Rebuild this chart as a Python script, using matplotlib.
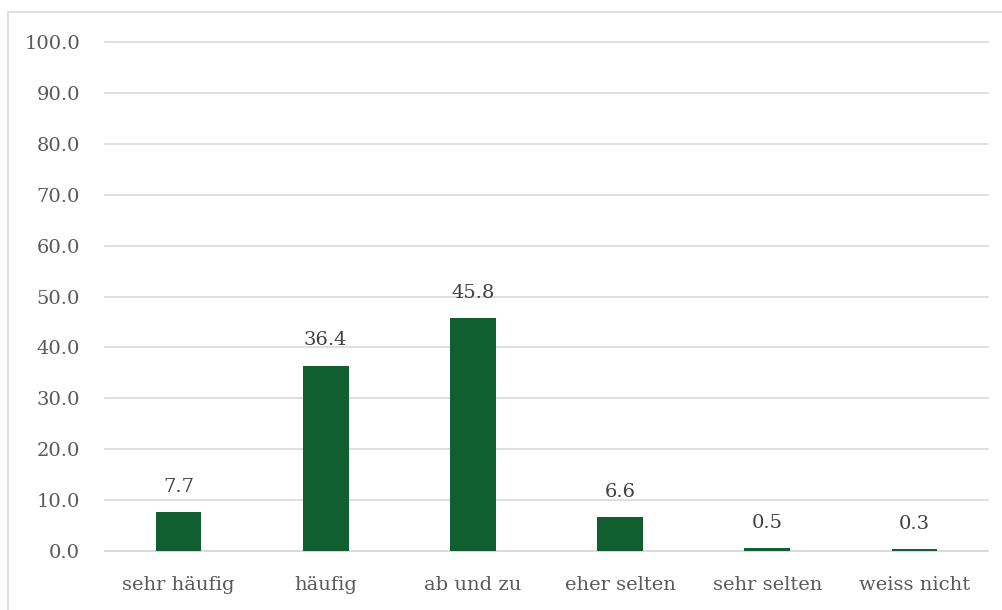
import numpy as np
import matplotlib
matplotlib.use('Agg')
import matplotlib.pyplot as plt
from matplotlib.patches import Rectangle

# data
categories = ['sehr häufig', 'häufig', 'ab und zu', 'eher selten', 'sehr selten', 'weiss nicht']
values = [7.7, 36.4, 45.8, 6.6, 0.5, 0.3]
yticks = np.arange(0, 101, 10)

plt.rcParams['font.family'] = ['DejaVu Serif']

fig = plt.figure(figsize=(10.03, 6.10), dpi=100)
ax = fig.add_axes([105/1003, 1 - 551/610, (988-105)/1003, (551-42)/610])

x = np.arange(len(categories))
ax.bar(x, values, width=0.31, color='#115E30', zorder=3)
for xi, v in zip(x, values):
    ax.text(xi, v + 3.2, '%.1f' % v, ha='center', va='bottom',
            fontsize=14, color='#404040')

ax.set_xlim(-0.5, len(categories) - 0.5)
ax.set_ylim(0, 100)
ax.set_yticks(yticks)
ax.set_yticklabels(['%.1f' % t for t in yticks])
ax.set_xticks(x)
ax.set_xticklabels(categories)
ax.tick_params(length=0, labelsize=14, labelcolor='#595959')
ax.tick_params(axis='y', pad=18)
ax.tick_params(axis='x', pad=18)
ax.grid(axis='y', color='#d9d9d9', linewidth=1.2, zorder=0)
for gl in ax.yaxis.get_gridlines():
    gl.set_clip_on(False)
for s in ['top', 'right', 'left']:
    ax.spines[s].set_visible(False)
ax.spines['bottom'].set_color('#d9d9d9')
ax.spines['bottom'].set_linewidth(1.2)

# chart border
fig.patches.append(Rectangle((8/1003, -0.02), 1.0, 1 - 12/610 + 0.02,
                             transform=fig.transFigure, fill=False,
                             edgecolor='#d9d9d9', linewidth=1.2))

fig.savefig('out.png', dpi=100)
